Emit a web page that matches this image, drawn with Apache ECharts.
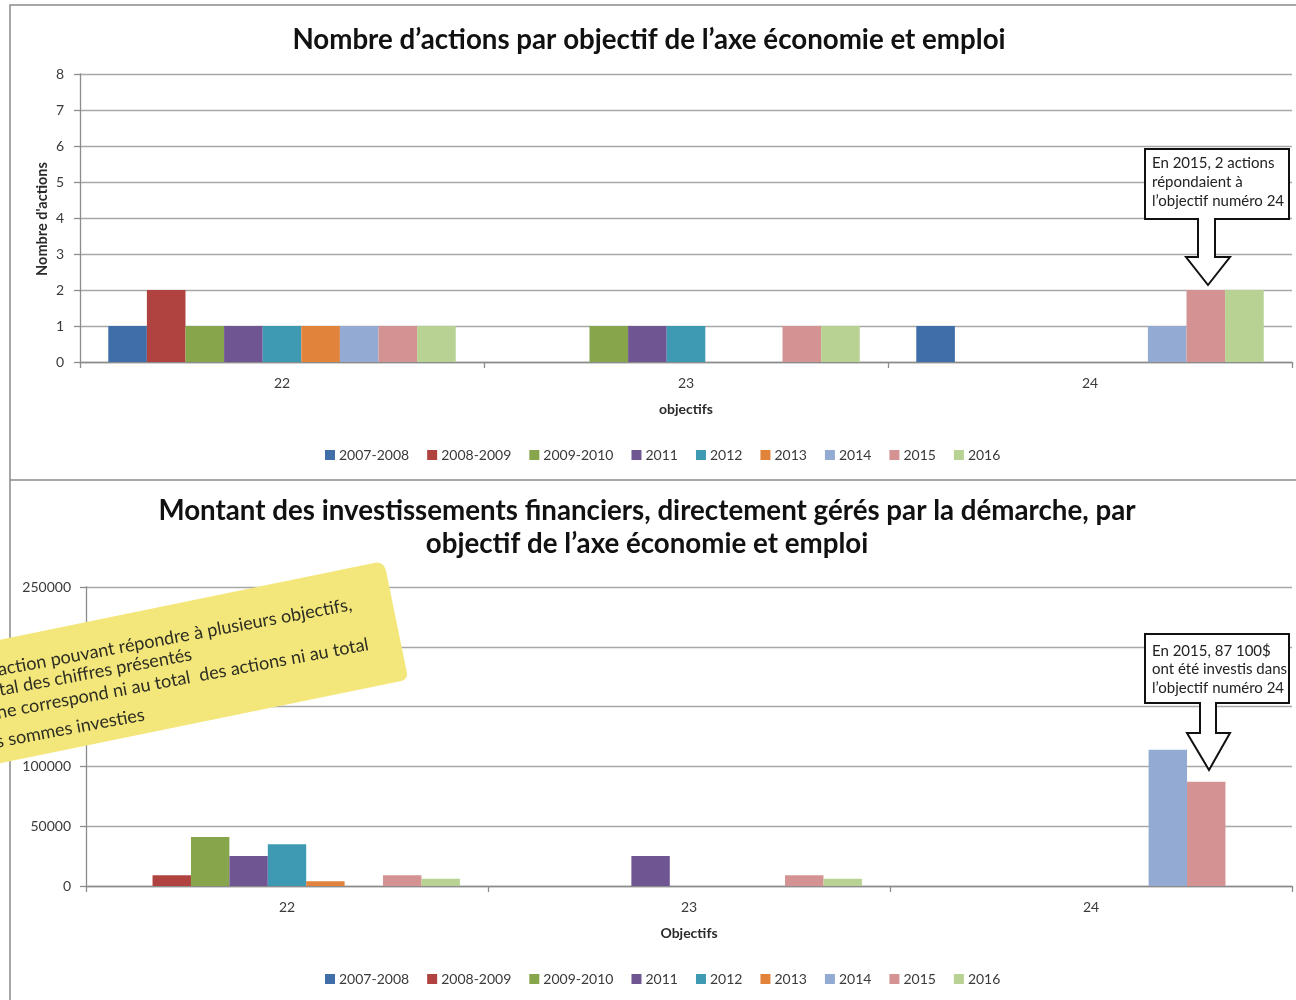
<!DOCTYPE html>
<html><head><meta charset="utf-8">
<script src="https://cdn.jsdelivr.net/npm/echarts@6/dist/echarts.min.js"></script>
<style>html,body{margin:0;padding:0;background:#fff}#c{width:1296px;height:1000px}</style>
</head><body><div id="c"></div>
<script>
// ---- data ----
const categories = ['22', '23', '24'];
const seriesNames = ['2007-2008', '2008-2009', '2009-2010', '2011', '2012', '2013', '2014', '2015', '2016'];
// Nombre d'actions, per objectif (one value per series, in seriesNames order)
const actions22 = [1, 2, 1, 1, 1, 1, 1, 1, 1];
const actions23 = [0, 0, 1, 1, 1, 0, 0, 1, 1];
const actions24 = [1, 0, 0, 0, 0, 0, 1, 2, 2];
// Montant des investissements, per objectif
const invest22 = [0, 9000, 41000, 25000, 35000, 4000, 0, 9000, 6000];
const invest23 = [0, 0, 0, 25000, 0, 0, 0, 9000, 6000];
const invest24 = [0, 0, 0, 0, 0, 0, 114000, 87100, 0];
const yNameTop = 'Nombre d\'actions';
const noteLines = ['action pouvant répondre à plusieurs objectifs,', 'tal des chiffres présentés', 'ne correspond ni au total  des actions ni au total', 's sommes investies'];
const callout1 = ['En 2015, 2 actions', 'répondaient à', 'l’objectif numéro 24'];
const callout2 = ['En 2015, 87 100$', 'ont été investis dans', 'l’objectif numéro 24'];

// ---- styles ----
const colors = ['#3f6ea8', '#b0433f', '#87a54a', '#6f5592', '#3e9ab3', '#e2833b', '#93abd3', '#d49292', '#b8d293'];
const FONT = 'Lato';
const axisGray = '#8c8c8c';
const gridGray = '#a8a8a8';
const labelColor = '#3a3a3a';

function xAx(gi, name) {
  return {
    gridIndex: gi, type: 'category', data: categories,
    axisLine: { lineStyle: { color: axisGray, width: 1.3 } },
    axisTick: { show: true, length: 6, lineStyle: { color: axisGray, width: 1.3 } },
    axisLabel: { color: labelColor, fontSize: 14, fontFamily: FONT, margin: 14 },
    name: name, nameLocation: 'middle', nameGap: 40,
    nameTextStyle: { fontWeight: 'bold', fontSize: 14, color: '#2a2a2a', fontFamily: FONT }
  };
}
function yAx(gi, max, interval, margin) {
  return {
    gridIndex: gi, type: 'value', min: 0, max: max, interval: interval,
    axisLine: { show: true, lineStyle: { color: axisGray, width: 1.3 } },
    axisTick: { show: true, length: 6, lineStyle: { color: axisGray, width: 1.3 } },
    splitLine: { lineStyle: { color: gridGray, width: 1.4 } },
    axisLabel: { color: labelColor, fontSize: 14, fontFamily: FONT, margin: margin, formatter: v => String(v) }
  };
}

const series = [];
seriesNames.forEach((n, i) => {
  series.push({
    name: n, type: 'bar', xAxisIndex: 0, yAxisIndex: 0,
    data: [actions22[i], actions23[i], actions24[i]],
    itemStyle: { color: colors[i] }, barGap: '0%', barCategoryGap: '14%'
  });
});
seriesNames.forEach((n, i) => {
  series.push({
    name: n, type: 'bar', xAxisIndex: 1, yAxisIndex: 1,
    data: [invest22[i], invest23[i], invest24[i]],
    itemStyle: { color: colors[i] }, barGap: '0%', barCategoryGap: '14%'
  });
});

function legend(top) {
  return {
    data: seriesNames, left: 320, top: top, icon: 'rect', itemWidth: 10, itemHeight: 10, itemGap: 18,
    textStyle: { color: labelColor, fontSize: 14, fontFamily: FONT, padding: [0, 0, 0, -1] }
  };
}

function callout(x1, y1, x2, y2, sx1, sx2, sy, hx1, hx2, tipX, tipY, lines, ty, lh) {
  const els = [{
    type: 'polygon', z: 100,
    shape: { points: [[x1, y1], [x2, y1], [x2, y2], [sx2, y2], [sx2, sy], [hx2, sy], [tipX, tipY], [hx1, sy], [sx1, sy], [sx1, y2], [x1, y2]] },
    style: { fill: '#fff', stroke: '#111', lineWidth: 2 }
  }];
  lines.forEach((t, k) => {
    els.push({ type: 'text', z: 101, x: x1 + 7, y: ty + k * lh,
      style: { text: t, fill: '#222', font: '15px ' + FONT, textVerticalAlign: 'middle', verticalAlign: 'middle' } });
  });
  return els;
}

const noteRot = 11.6 * Math.PI / 180;
const textRot = 10.5 * Math.PI / 180;
const noteMid = [670, 690, 713, 742];
const noteStart = [-2, -1, -3, -4];

const graphic = [
  { type: 'polyline', z: 90, shape: { points: [[1296, 5], [10, 5], [10, 1000]] }, style: { stroke: '#8a8a8a', lineWidth: 1.5, fill: null } },
  { type: 'line', z: 90, shape: { x1: 10, y1: 480, x2: 1296, y2: 480 }, style: { stroke: '#8a8a8a', lineWidth: 1.5 } },
  { type: 'text', z: 90, x: 42, y: 219, rotation: Math.PI / 2,
    style: { text: yNameTop, fill: '#2a2a2a', font: 'bold 14.5px ' + FONT, align: 'center', textAlign: 'center', verticalAlign: 'middle', textVerticalAlign: 'middle' } },
  { type: 'rect', z: 110, x: 384, y: 561, rotation: noteRot,
    shape: { x: -700, y: 0, width: 700, height: 121, r: [0, 9, 7, 0] },
    style: { fill: '#f3e77c' } }
];
noteLines.forEach((t, k) => {
  graphic.push({ type: 'text', z: 111, x: noteStart[k], y: noteMid[k], rotation: textRot,
    style: { text: t, fill: '#2e2e22', font: '18px ' + FONT, textVerticalAlign: 'middle', verticalAlign: 'middle' } });
});
graphic.push(...callout(1145, 149, 1289, 219, 1198, 1215, 257, 1186, 1230, 1208, 285, callout1, 163, 19));
graphic.push(...callout(1145, 634, 1289, 703, 1200, 1216, 733, 1187, 1230, 1209, 770, callout2, 651, 18.5));

const option = {
  animation: false,
  backgroundColor: '#fff',
  title: [
    { text: 'Nombre d’actions par objectif de l’axe économie et emploi', left: 644, textAlign: 'center', top: 21,
      textStyle: { fontFamily: FONT, fontWeight: 'bold', fontSize: 27.7, color: '#111' } },
    { text: 'Montant des investissements financiers, directement gérés par la démarche, par\nobjectif de l’axe économie et emploi',
      left: 642, textAlign: 'center', top: 490,
      textStyle: { fontFamily: FONT, fontWeight: 'bold', fontSize: 27.7, color: '#111', lineHeight: 33 } }
  ],
  legend: [legend(443), legend(967)],
  grid: [
    { left: 80, right: 4, top: 74, height: 288 },
    { left: 86, right: 4, top: 587, height: 299 }
  ],
  xAxis: [xAx(0, 'objectifs'), xAx(1, 'Objectifs')],
  yAxis: [yAx(0, 8, 1, 16), yAx(1, 250000, 50000, 15)],
  series: series,
  graphic: graphic
};
const chart = echarts.init(document.getElementById('c'));
chart.setOption(option);
</script>
</body></html>
